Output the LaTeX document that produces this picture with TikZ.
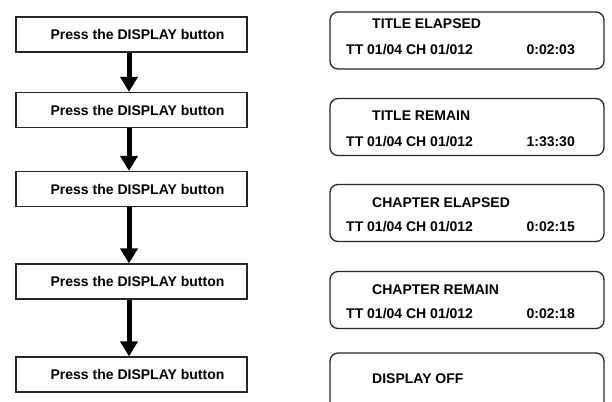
\documentclass[tikz,border=0pt]{standalone}
\usepackage{fontspec}
\setmainfont{Liberation Sans}
\usetikzlibrary{arrows.meta}
\tikzset{
  pressbox/.style={draw=black!85, line width=1.3bp, rectangle, minimum width=231bp, minimum height=35bp, inner sep=0pt,
    font=\fontsize{14bp}{16bp}\selectfont\bfseries},
  dispbox/.style={draw=black!85, line width=1.3bp, rectangle, rounded corners=8bp, minimum width=274bp, minimum height=57bp, inner sep=0pt},
  disptext/.style={inner sep=0pt, font=\fontsize{14bp}{16bp}\selectfont\bfseries},
  flow/.style={line width=5bp, -{Triangle[width=17bp,length=15bp]}},
}
\begin{document}
\begin{tikzpicture}[x=1bp,y=-1bp]
\useasboundingbox (0,0) rectangle (612,401);
\clip (0,0) rectangle (612,401);
% left column
\node[pressbox] (p1) at (131.5,34.5) {\hspace*{12bp}Press the DISPLAY button};
\node[pressbox] (p2) at (131.5,110) {\hspace*{12bp}Press the DISPLAY button};
\node[pressbox] (p3) at (131.5,189) {\hspace*{12bp}Press the DISPLAY button};
\node[pressbox] (p4) at (131.5,281.5) {\hspace*{12bp}Press the DISPLAY button};
\node[pressbox] (p5) at (131.5,374.5) {\hspace*{12bp}Press the DISPLAY button};
\draw[flow] ([xshift=-2.5bp]p1.south) -- ([xshift=-2.5bp]p2.north);
\draw[flow] ([xshift=-2.5bp]p2.south) -- ([xshift=-2.5bp]p3.north);
\draw[flow] ([xshift=-2.5bp]p3.south) -- ([xshift=-2.5bp]p4.north);
\draw[flow] ([xshift=-2.5bp]p4.south) -- ([xshift=-2.5bp]p5.north);
% right column
\node[dispbox] (d1) at (467,40.5) {};
\node[dispbox] (d2) at (467,127) {};
\node[dispbox] (d3) at (467,213) {};
\node[dispbox] (d4) at (467,300) {};
\node[dispbox] (d5) at (467,381.5) {};
\node[disptext, anchor=base west] (t1) at (372,28) {TITLE ELAPSED};
\node[disptext, anchor=base west] (r1) at (346,54) {TT 01/04 CH 01/012};
\node[disptext, anchor=base east] (s1) at (575,54) {0:02:03};
\node[disptext, anchor=base west] (t2) at (372,120) {TITLE REMAIN};
\node[disptext, anchor=base west] (r2) at (346,146) {TT 01/04 CH 01/012};
\node[disptext, anchor=base east] (s2) at (575,146) {1:33:30};
\node[disptext, anchor=base west] (t3) at (372,207) {CHAPTER ELAPSED};
\node[disptext, anchor=base west] (r3) at (346,231) {TT 01/04 CH 01/012};
\node[disptext, anchor=base east] (s3) at (575,231) {0:02:15};
\node[disptext, anchor=base west] (t4) at (372,294) {CHAPTER REMAIN};
\node[disptext, anchor=base west] (r4) at (346,318) {TT 01/04 CH 01/012};
\node[disptext, anchor=base east] (s4) at (575,318) {0:02:18};
\node[disptext, anchor=base west] (t5) at (372,383) {DISPLAY OFF};
\end{tikzpicture}
\end{document}
